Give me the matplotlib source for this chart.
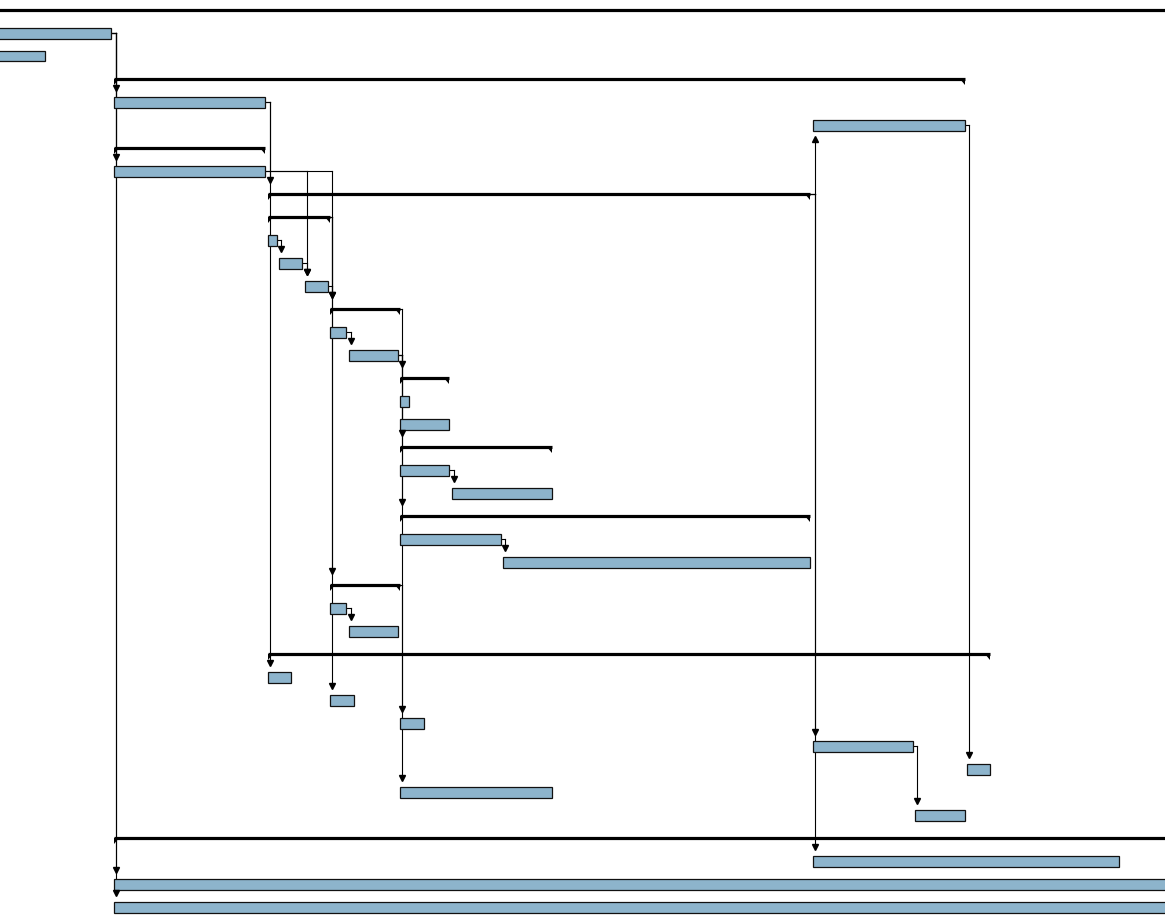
import matplotlib
matplotlib.use("Agg")
import matplotlib.pyplot as plt

# ---------------- data ----------------
# row index (0 = top), kind, start, finish (time units on the chart's time axis)
rows = list(range(40))
kinds = ["S", "T", "T", "S", "T", "T", "S", "T", "S", "S",
         "T", "T", "T", "S", "T", "T", "S", "T", "T", "S",
         "T", "T", "S", "T", "T", "S", "T", "T", "S", "T",
         "T", "T", "T", "T", "T", "T", "S", "T", "T", "T"]
starts = [-20, -20, -20, 114, 114, 813, 114, 114, 268, 268,
          268, 279, 305, 330, 330, 349, 400, 400, 400, 400,
          400, 452, 400, 400, 503, 330, 330, 349, 268, 268,
          330, 400, 813, 967, 400, 915, 114, 813, 114, 114]
finishes = [1200, 111, 45, 965, 265, 965, 265, 265, 810, 330,
            277, 302, 328, 400, 346, 398, 449, 409, 449, 552,
            449, 552, 810, 501, 810, 400, 346, 398, 990, 291,
            354, 424, 913, 990, 552, 965, 1200, 1119, 1200, 1200]
# dependencies (predecessor row, successor row)
links = [(1, 4), (1, 7), (1, 38), (1, 39),
         (4, 8), (4, 29),
         (7, 12), (7, 25),
         (10, 11), (11, 12),
         (9, 13), (12, 13), (9, 30),
         (14, 15),
         (15, 16), (15, 19), (15, 22), (13, 34), (25, 31),
         (20, 21), (23, 24), (26, 27),
         (8, 5), (8, 32), (8, 37),
         (5, 33), (32, 35)]

# ---------------- figure ----------------
W, H = 1165, 924
fig = plt.figure(figsize=(W / 100, H / 100), dpi=100)
ax = fig.add_axes([0, 0, 1, 1])
row_px = 23.0
top_px = 10.0
ax.set_xlim(0, W)
ax.set_ylim((H - top_px) / row_px, -top_px / row_px)
ax.axis("off")

bar_color = "#8db4cc"
bar_h = 11 / row_px
cap_h = 6 / row_px
cap_w = 5

task_rows = [r for r, k in zip(rows, kinds) if k == "T"]
ax.barh(task_rows,
        [finishes[r] - starts[r] for r in task_rows],
        left=[starts[r] for r in task_rows],
        height=bar_h, color=bar_color, edgecolor="#111111",
        linewidth=0.9, zorder=3)

for r, k in zip(rows, kinds):
    if k != "S":
        continue
    s, e = starts[r], finishes[r]
    ax.hlines(r, s, e, color="black", linewidth=2.3, zorder=4)
    ax.fill([s, s + cap_w, s], [r, r, r + cap_h], color="black", zorder=4, lw=0)
    ax.fill([e - cap_w, e, e], [r, r, r + cap_h], color="black", zorder=4, lw=0)

for p, s in links:
    pe = finishes[p]
    ss = starts[s]
    off = 2 if kinds[p] == "S" else 4
    xl = max(pe + off, ss + 1.5)
    ax.plot([pe, xl], [p, p], color="black", lw=0.8, zorder=2)
    if s > p:
        tip = s - 0.5
        ax.plot([xl, xl], [p, tip - 0.1], color="black", lw=0.8, zorder=2)
        ax.plot([xl], [tip - 0.12], marker="v", color="black", markersize=4,
                linestyle="none", zorder=5)
    else:
        tip = s + 0.5
        ax.plot([xl, xl], [p, tip + 0.1], color="black", lw=0.8, zorder=2)
        ax.plot([xl], [tip + 0.12], marker="^", color="black", markersize=4,
                linestyle="none", zorder=5)

fig.savefig("out.png", dpi=100)
